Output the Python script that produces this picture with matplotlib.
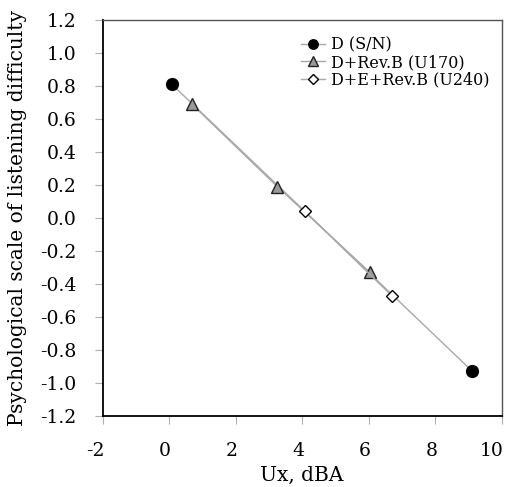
import matplotlib
matplotlib.use("Agg")
import matplotlib.pyplot as plt
import matplotlib.transforms as mtransforms

# Series
d_sn_x = [0.08, 9.12]
d_sn_y = [0.81, -0.93]

rev_b_x = [0.68, 3.25, 6.04]
rev_b_y = [0.69, 0.19, -0.33]

derev_x = [4.08, 6.69]
derev_y = [0.04, -0.47]

labels = ["D (S/N)", "D+Rev.B (U170)", "D+E+Rev.B (U240)"]

xticks = [-2, 0, 2, 4, 6, 8, 10]
yticks = [-1.2, -1.0, -0.8, -0.6, -0.4, -0.2, 0.0, 0.2, 0.4, 0.6, 0.8, 1.0, 1.2]

plt.rcParams["font.family"] = ["DejaVu Serif"]

fig = plt.figure(figsize=(5.12, 4.87), dpi=100)
ax = fig.add_axes([0.2006, 0.1458, 0.7794, 0.8132])

line_col = "#a8a8a8"
ax.plot(d_sn_x, d_sn_y, color=line_col, lw=1.0, marker="o", ms=8.5,
        mfc="black", mec="black", label=labels[0], zorder=3)
ax.plot(rev_b_x, rev_b_y, color=line_col, lw=1.0, marker="^", ms=8.5,
        mfc="#999999", mec="#222222", mew=1.0, label=labels[1], zorder=4)
ax.plot(derev_x, derev_y, color=line_col, lw=1.0, marker="D", ms=6.5,
        mfc="white", mec="black", mew=1.0, label=labels[2], zorder=5)

ax.set_xlim(-2, 10)
ax.set_ylim(-1.2, 1.2)
ax.set_xticks(xticks)
ax.set_yticks(yticks)
ax.set_xticklabels([str(t) for t in xticks])
ax.set_yticklabels([f"{t:.1f}" for t in yticks])
ax.tick_params(direction="out", length=6, color="#b0b0b0", labelsize=13.5)
ax.tick_params(axis="x", pad=13)
ax.tick_params(axis="y", pad=13)

# x tick labels sit right-aligned on their ticks in the original
shift = mtransforms.ScaledTranslation(0.02, 0, fig.dpi_scale_trans)
for lab in ax.get_xticklabels():
    lab.set_horizontalalignment("right")
    lab.set_transform(lab.get_transform() + shift)

for side in ["left", "bottom"]:
    ax.spines[side].set_color("black")
    ax.spines[side].set_linewidth(1.3)
for side in ["top", "right"]:
    ax.spines[side].set_color("#555555")
    ax.spines[side].set_linewidth(1.0)

ax.set_xlabel("Ux, dBA", fontsize=14.5)
ax.xaxis.set_label_coords(0.5, -0.125)
ax.set_ylabel("Psychological scale of listening difficulty", fontsize=14.5)
ax.yaxis.set_label_coords(-0.19, 0.5)

ax.legend(loc="upper left", bbox_to_anchor=(0.48, 0.975), frameon=False,
          fontsize=11.5, handlelength=1.5, handletextpad=0.4, labelspacing=0.05,
          borderaxespad=0.0, markerscale=0.8)

fig.savefig("out.png", dpi=100)
